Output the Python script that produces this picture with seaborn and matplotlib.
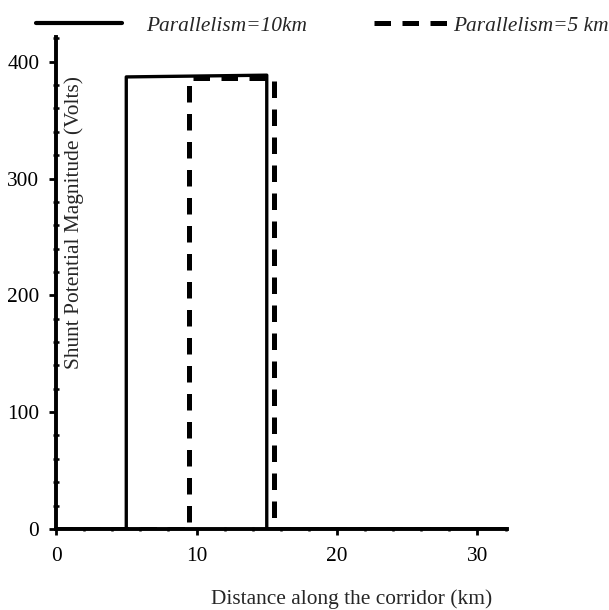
import matplotlib
matplotlib.use("Agg")
import matplotlib.pyplot as plt
from matplotlib.ticker import MultipleLocator
from matplotlib.lines import Line2D
import seaborn as sns
import pandas as pd

# Shunt potential profiles along the corridor for two parallelism lengths
dist_10km = [0.0, 5.0, 5.0, 15.0, 15.0, 32.1]
volts_10km = [0.0, 0.0, 387.0, 388.5, 0.0, 0.0]
dist_5km = [0.0, 9.5, 9.5, 15.5, 15.5, 32.1]
volts_5km = [0.0, 0.0, 386.5, 386.5, 0.0, 0.0]

label_10km = "Parallelism=10km"
label_5km = "Parallelism=5 km"
x_label = "Distance along the corridor (km)"
y_label = "Shunt Potential Magnitude (Volts)"
x_ticks = [0, 10, 20, 30]
y_ticks = [0, 100, 200, 300, 400]

sns.set_style("ticks")
plt.rcParams["font.family"] = ["Liberation Serif", "DejaVu Serif"]
FS = 15.4

fig = plt.figure(figsize=(6.09, 6.10), dpi=100)
ax = fig.add_axes([0.092, 0.133, 0.7405, 0.806])

df10 = pd.DataFrame({"x": dist_10km, "y": volts_10km})
df5 = pd.DataFrame({"x": dist_5km, "y": volts_5km})

sns.lineplot(data=df5, x="x", y="y", sort=False, estimator=None, ax=ax,
             color="black", linewidth=3.6, dashes=False)
ax.lines[-1].set_dashes((3.3, 2.3))
sns.lineplot(data=df10, x="x", y="y", sort=False, estimator=None, ax=ax,
             color="black", linewidth=2.4)

ax.set_xlim(0, 32.1)
ax.set_ylim(0, 421)
ax.set_xticks(x_ticks)
ax.set_yticks(y_ticks)
ax.xaxis.set_minor_locator(MultipleLocator(2))
ax.yaxis.set_minor_locator(MultipleLocator(20))

for side in ("top", "right"):
    ax.spines[side].set_visible(False)
for side in ("left", "bottom"):
    ax.spines[side].set_linewidth(2.8)
    ax.spines[side].set_color("black")

ax.tick_params(axis="x", which="major", direction="out", length=4, width=2,
               pad=9, labelsize=FS, colors="black")
ax.tick_params(axis="x", which="minor", direction="inout", length=3, width=1.8,
               colors="black")
ax.tick_params(axis="y", which="major", direction="out", length=5, width=2,
               pad=7, labelsize=FS, colors="black")
ax.tick_params(axis="y", which="minor", direction="inout", length=4, width=1.8,
               colors="black")

ax.set_xlabel(x_label, fontsize=FS)
ax.xaxis.set_label_coords(0.656, -0.122)
ax.set_ylabel(y_label, fontsize=FS)
ax.yaxis.set_label_coords(0.062, 0.624)

prop = {"style": "italic", "size": FS}
h10 = Line2D([], [], color="black", linewidth=3.0)
h5 = Line2D([], [], color="black", linewidth=3.6, dashes=(3.3, 2.3))
leg1 = fig.legend([h10], [label_10km], loc="center left",
                  bbox_to_anchor=(36 / 609, 1 - 26 / 610), frameon=False,
                  prop=prop, handlelength=4.0, handletextpad=1.15,
                  borderpad=0, borderaxespad=0)
leg2 = fig.legend([h5], [label_5km], loc="center left",
                  bbox_to_anchor=(374 / 609, 1 - 26 / 610), frameon=False,
                  prop=prop, handlelength=3.65, handletextpad=0.05,
                  borderpad=0, borderaxespad=0)

fig.savefig("out.png", dpi=100)
